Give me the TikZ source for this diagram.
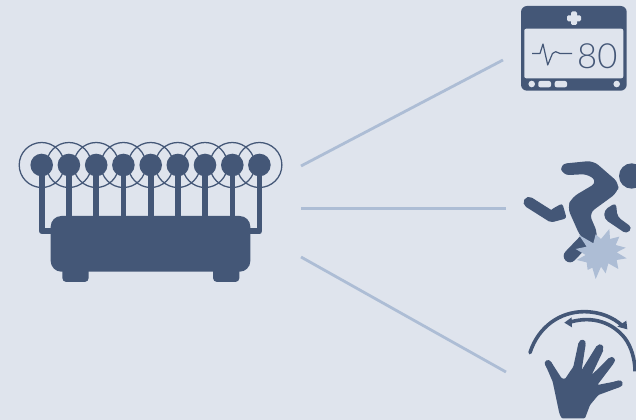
\documentclass[tikz,border=0pt]{standalone}
\usepackage{fontspec}
\newfontfamily\lightf{Lato Light}
\definecolor{bg}{HTML}{DFE4ED}
\definecolor{dk}{HTML}{445777}
\definecolor{lt}{HTML}{ADBDD5}
\tikzset{
  link/.style={draw=lt,line width=2.1pt},
  solid dk/.style={fill=dk,draw=none},
  ring/.style={draw=dk,line width=0.95pt},
  stem/.style={draw=dk,line width=4.2pt,line join=round},
  limb/.style={draw=dk,line cap=round,line join=round},
  zoomA/.style={shift={#1},x=0.25pt,y=-0.25pt},
}
\begin{document}
\begin{tikzpicture}[x=0.75pt,y=-0.75pt]
\path[use as bounding box,fill=bg] (0,0) rectangle (636,420);
% connectors
\coordinate (s1) at (301,166); \coordinate (e1) at (503,60);
\coordinate (s2) at (301,208.5); \coordinate (e2) at (506,208.5);
\coordinate (s3) at (301,257); \coordinate (e3) at (506,372);
\draw[link] (s1) -- (e1);
\draw[link] (s2) -- (e2);
\draw[link] (s3) -- (e3);
% router
\foreach \x in {41.7,68.9,96.2,123.4,150.7,177.8,205,232.3,259.4}{
  \draw[ring] (\x,165) circle[radius=22.5];
}
\foreach \x in {68.9,96.2,123.4,150.7,177.8,205,232.3}{
  \draw[stem] (\x,165) -- (\x,225);
}
\draw[stem] (41.7,165) -- (41.7,231.2) -- (60,231.2);
\draw[stem] (259.4,165) -- (259.4,231.2) -- (240,231.2);
\foreach \x in {41.7,68.9,96.2,123.4,150.7,177.8,205,232.3,259.4}{
  \fill[solid dk] (\x,165) circle[radius=11.3];
}
\fill[solid dk,rounded corners=3pt] (62.3,262) rectangle (88.7,282);
\fill[solid dk,rounded corners=3pt] (213,262) rectangle (239.4,282);
\fill[solid dk,rounded corners=8pt] (50.7,216) rectangle (250.3,271.7);
% monitor
\fill[solid dk,rounded corners=4.5pt] (521,6) rectangle (626.7,90.7);
\fill[bg,rounded corners=1.5pt] (524.3,28.7) rectangle (623.3,78.3);
\fill[bg,rounded corners=1pt] (567,15.3) rectangle (581,21.3);
\fill[bg,rounded corners=1pt] (571,11.5) rectangle (577,25);
\fill[bg] (531.7,84) circle[radius=3.3];
\fill[bg] (616.7,84) circle[radius=3.3];
\fill[bg,rounded corners=1.5pt] (538.3,81) rectangle (551,87.3);
\fill[bg,rounded corners=1.5pt] (554.7,81) rectangle (567,87.3);
\draw[dk,line width=0.9pt,line join=round] (532,53.5) -- (540,53.5) -- (543,44) -- (547.7,65) -- (552.5,53.5) -- (555.7,51.7) -- (560,53.5) -- (572,53.5);
\node[inner sep=0pt,text=dk,anchor=center] (eighty) at (597.3,56.5) {\fontsize{26}{26}\lightf 80};
% runner
\begin{scope}[zoomA={(510,150)}]
\clip (0,-10) rectangle (378,405);
\fill[solid dk] (365,78) circle[radius=38];
\fill[solid dk,rounded corners=5pt] (150,42) -- (250,32) -- (328,100) -- (322,128) -- (237,190) -- (263,250) -- (255,290) -- (212,262) -- (172,172) -- (186,142) -- (262,97) -- (235,72) -- (158,76) -- cycle;
\draw[limb,line width=9.5pt] (180,318) -- (226,270);
\draw[limb,line width=8.2pt] (57,157) -- (125,200);
\fill[solid dk,rounded corners=2pt] (128,176) -- (157,160) -- (170,205) -- (125,217) -- (105,195) -- cycle;
\fill[solid dk,rounded corners=3pt] (318,158) -- (283,180) -- (283,207) -- (350,252) -- (367,233) -- (322,200) -- cycle;
\end{scope}
\begin{scope}[zoomA={(565,225)}]
\fill[lt,line join=miter] (42,30) -- (85,55) -- (92,28) -- (108,42) -- (133,12) -- (135,42) -- (163,35) -- (152,60) -- (182,68) -- (155,82) -- (185,100) -- (155,105) -- (160,132) -- (130,115) -- (122,145) -- (108,125) -- (92,162) -- (82,128) -- (68,135) -- (65,112) -- (35,105) -- (62,90) -- (32,72) -- (65,65) -- cycle;
\end{scope}
% hand
\begin{scope}[zoomA={(510,300)}]
\draw[dk,line width=2.7pt,line cap=round] (60,158) .. controls (85,80) and (150,35) .. (222,35) .. controls (270,35) and (310,52) .. (338,78);
\fill[solid dk] (349,62) -- (352,88) -- (322,80) -- cycle;
\draw[dk,line width=2.7pt,line cap=butt] (178,67) .. controls (250,45) and (310,70) .. (345,115) .. controls (365,142) and (375,180) .. (375,214);
\fill[solid dk] (163,68) -- (185,52) -- (186,82) -- cycle;
\end{scope}
\begin{scope}[zoomA={(540,335)}]
\fill[solid dk,rounded corners=0.8pt] (65,250) -- (135,250) -- (150,210) -- (175,180) -- (240,156) -- (238,137) -- (172,150) -- (222,84) -- (209,67) -- (155,120) -- (191,44) -- (171,31) -- (125,105) -- (137,28) -- (116,21) -- (100,95) -- (75,132) -- (65,130) -- (32,79) -- (16,89) -- (38,140) -- (58,235) -- cycle;
\draw[limb,line width=5pt] (24,85) -- (30,95);
\draw[limb,line width=5pt] (127,24) -- (123,40);
\draw[limb,line width=5pt] (180,38) -- (172,50);
\draw[limb,line width=5pt] (215,76) -- (205,86);
\draw[limb,line width=5pt] (238,146) -- (225,150);
\end{scope}
\end{tikzpicture}
\end{document}
